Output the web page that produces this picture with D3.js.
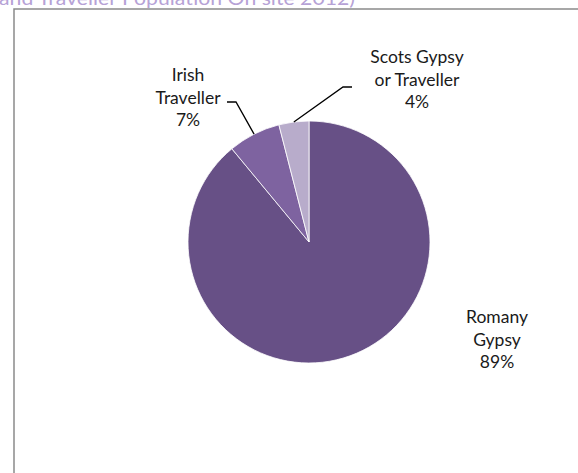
<!DOCTYPE html>
<html>
<head>
<meta charset="utf-8">
<script src="https://cdn.jsdelivr.net/npm/d3@7"></script>
<style>
  html, body { margin: 0; padding: 0; background: #fff; }
  svg { display: block; }
</style>
</head>
<body>
<svg id="chart" width="578" height="473"></svg>
<script>
// Gypsy and Traveller population on site, 2012 — share by group
const categories = ["Romany Gypsy", "Irish Traveller", "Scots Gypsy or Traveller"];
const shares = [89, 7, 4];
const labelLines = [["Romany", "Gypsy", "89%"], ["Irish", "Traveller", "7%"], ["Scots Gypsy", "or Traveller", "4%"]];
const colors = ["#675086", "#7e63a0", "#b8accb"];

const svg = d3.select("#chart");
const W = 578, H = 473;

// chart frame (extends past the window on the right and bottom)
svg.append("rect")
  .attr("x", 14).attr("y", 9)
  .attr("width", W + 20).attr("height", H + 20)
  .attr("fill", "#fff")
  .attr("stroke", "#8a8a8a").attr("stroke-width", 1.5);

// title, partly above the window
svg.append("text")
  .attr("x", -1).attr("y", 5)
  .attr("font-family", "Lato, 'Open Sans', sans-serif")
  .attr("font-size", 19)
  .attr("fill", "#b6a2d6")
  .attr("textLength", 356)
  .attr("lengthAdjust", "spacingAndGlyphs")
  .text("and Traveller Population On site 2012)");

const cx = 309, cy = 242, R = 121;
const data = categories.map((c, i) => ({ name: c, value: shares[i], color: colors[i], lines: labelLines[i] }));

const pie = d3.pie().value(d => d.value).sort(null);
const arc = d3.arc().innerRadius(0).outerRadius(R);
const arcs = pie(data);

const g = svg.append("g").attr("transform", `translate(${cx},${cy})`);
g.selectAll("path.slice")
  .data(arcs)
  .join("path")
  .attr("class", "slice")
  .attr("d", arc)
  .attr("fill", d => d.data.color)
  .attr("stroke", "#ffffff")
  .attr("stroke-width", 0.8);

// label placement: centre x, first baseline, optional leader elbow/end
const labelPos = [
  { x: 497, y: 323, leader: null },
  { x: 188, y: 81, leader: { elbow: [-73, -140], end: [-82, -140] } },
  { x: 417, y: 63, leader: { elbow: [34, -155], end: [43, -155] } }
];

const lineH = 22.5;
arcs.forEach((a, i) => {
  const p = labelPos[i];
  const t = svg.append("text")
    .attr("font-family", "Lato, 'Open Sans', sans-serif")
    .attr("font-size", 17.5)
    .attr("fill", "#1a1a1a")
    .attr("text-anchor", "middle");
  a.data.lines.forEach((ln, j) => {
    t.append("tspan").attr("x", p.x).attr("y", p.y + j * lineH).text(ln);
  });
  if (p.leader) {
    const mid = (a.startAngle + a.endAngle) / 2;
    const start = [Math.sin(mid) * R, -Math.cos(mid) * R];
    g.append("polyline")
      .attr("points", [start, p.leader.elbow, p.leader.end].map(q => q.join(",")).join(" "))
      .attr("fill", "none")
      .attr("stroke", "#000")
      .attr("stroke-width", 1.3);
  }
});
</script>
</body>
</html>
